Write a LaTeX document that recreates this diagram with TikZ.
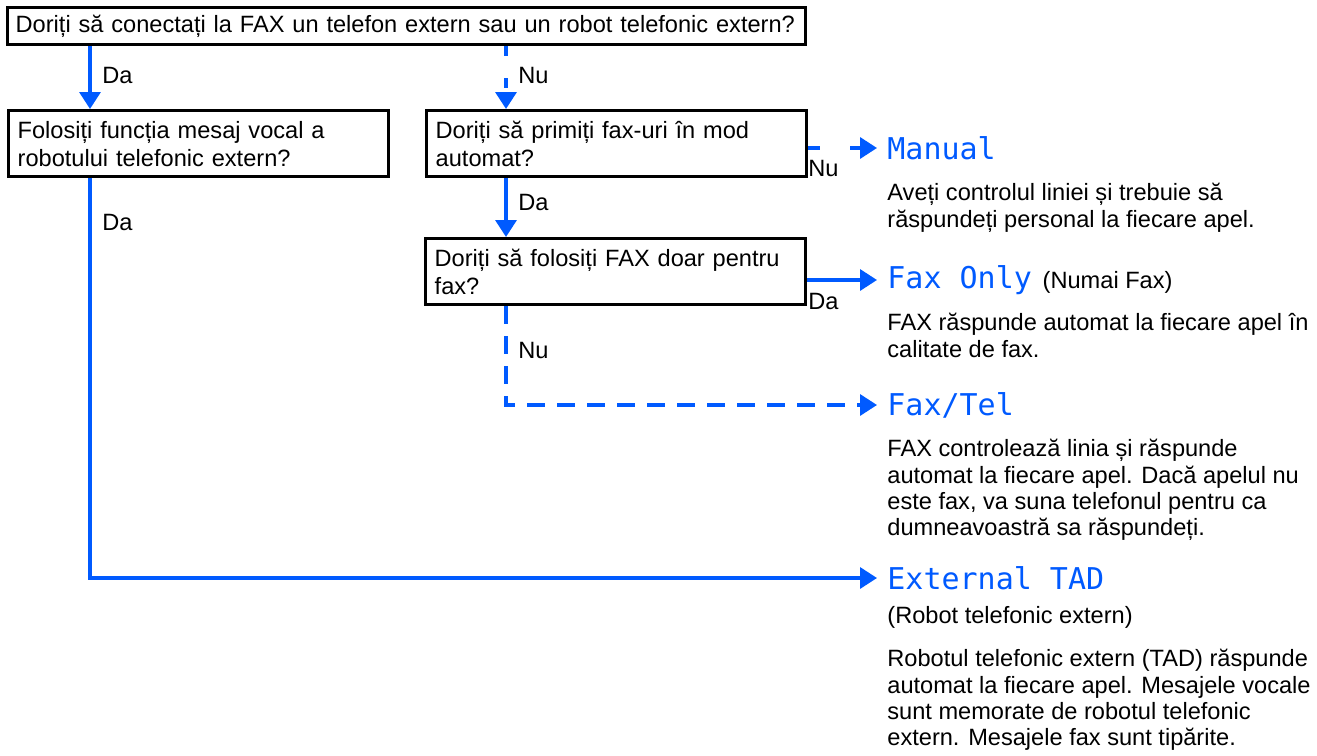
\documentclass[tikz,border=0pt]{standalone}
\usepackage{fontspec}
\setmainfont{Liberation Sans}
\newfontfamily\lcdfont{DejaVu Sans Mono}
\usetikzlibrary{arrows.meta}

\definecolor{faxblue}{RGB}{0,90,255}
\tikzset{
  txt/.style={font=\fontsize{11.8}{14}\selectfont},
  question/.style={txt, draw=black, line width=1.7pt, anchor=north west,
    align=left, inner xsep=4.5pt, inner ysep=0pt, text width=181pt,
    minimum height=33pt},
  answer/.style={txt, anchor=west, inner sep=1pt},
  mode/.style={anchor=west, inner xsep=5pt, inner ysep=0pt,
    font=\fontsize{15}{16}\lcdfont, text=faxblue},
  info/.style={font=\fontsize{11.8}{13.1}\selectfont, anchor=north west,
    align=left, inner sep=0pt},
  yes/.style={draw=faxblue, line width=1.7pt,
    -{Triangle[length=8.5pt,width=10.5pt]}},
  no/.style={yes, dash pattern=on 9pt off 6pt},
}

\begin{document}
\begin{tikzpicture}[x=0.5pt,y=-0.5pt]
  \useasboundingbox (0,0) rectangle (1317,755);

  % columns of the connectors
  \coordinate (lft) at (90,0);
  \coordinate (col) at (506,0);

  % questions
  \node[question, text width=391pt, inner xsep=4pt, minimum height=18.5pt] (q0) at (6,6)
    {Doriți să conectați la FAX un telefon extern sau un robot telefonic extern?};
  \node[question] (q1) at (7,109)
    {Folosiți funcția mesaj vocal a\\robotului telefonic extern?};
  \node[question] (q2) at (425,109)
    {Doriți să primiți fax-uri în mod\\automat?};
  \node[question] (q3) at (424,237)
    {Doriți să folosiți FAX doar pentru\\fax?};

  % modes
  \node[mode] (manual) at (877,148) {Manual};
  \node[mode] (faxonly) at (877,280) {Fax Only};
  \node[answer, anchor=base west, inner sep=0pt] (numai) at (faxonly.base east) {(Numai Fax)};
  \node[mode] (faxtel) at (877,405) {Fax/Tel};
  \node[mode] (tad) at (877,578) {External TAD};

  \node[info] (manualtxt) at (887,183)
    {Aveți controlul liniei și trebuie să\\răspundeți personal la fiecare apel.};
  \node[info] (faxonlytxt) at (887,313)
    {FAX răspunde automat la fiecare apel în\\calitate de fax.};
  \node[info] (faxteltxt) at (887,439)
    {FAX controlează linia și răspunde\\automat la fiecare apel. Dacă apelul nu\\este fax, va suna telefonul pentru ca\\dumneavoastră sa răspundeți.};
  \node[info] (tadsub) at (887,606) {(Robot telefonic extern)};
  \node[info] (tadtxt) at (887,649)
    {Robotul telefonic extern (TAD) răspunde\\automat la fiecare apel. Mesajele vocale\\sunt memorate de robotul telefonic\\extern. Mesajele fax sunt tipărite.};

  % connectors
  \draw[yes] (q0.south -| lft) -- (q1.north -| lft);
  \draw[no, dash pattern=on 5pt off 11pt] (q0.south -| col) -- (q2.north -| col);
  \draw[no, dash pattern=on 6pt off 15pt] (manual.west -| q2.east) -- (manual.west);
  \draw[yes] (q2.south -| col) -- (q3.north -| col);
  \draw[yes] (faxonly.west -| q3.east) -- (faxonly.west);
  \draw[no] (q3.south -| col) |- (faxtel.west);
  \draw[yes] (q1.south -| lft) |- (tad.west);

  % answers
  \node[answer] (da0) at (100,75) {Da};
  \node[answer] (nu0) at (516,75) {Nu};
  \node[answer] (nu1) at (806,168) {Nu};
  \node[answer] (da1) at (516,202) {Da};
  \node[answer] (da2) at (100,222) {Da};
  \node[answer] (da3) at (806,301) {Da};
  \node[answer] (nu2) at (516,350) {Nu};
\end{tikzpicture}
\end{document}
